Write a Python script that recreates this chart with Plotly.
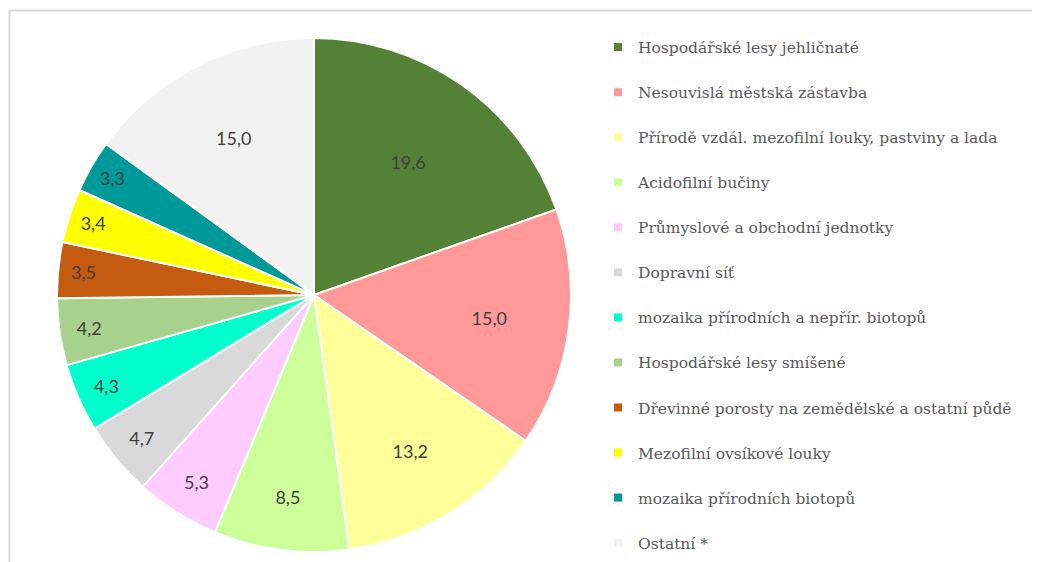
import plotly.graph_objects as go

categories = [
    "Hospodářské lesy jehličnaté",
    "Nesouvislá městská zástavba",
    "Přírodě vzdál. mezofilní louky, pastviny a lada",
    "Acidofilní bučiny",
    "Průmyslové a obchodní jednotky",
    "Dopravní síť",
    "mozaika přírodních a nepřír. biotopů",
    "Hospodářské lesy smíšené",
    "Dřevinné porosty na zemědělské a ostatní půdě",
    "Mezofilní ovsíkové louky",
    "mozaika přírodních biotopů",
    "Ostatní *",
]
values = [19.6, 15.0, 13.2, 8.5, 5.3, 4.7, 4.3, 4.2, 3.5, 3.4, 3.3, 15.0]
colors = [
    "#538135", "#FF9999", "#FFFF99", "#CCFF99", "#FFCCFF", "#D9D9D9",
    "#00FFCC", "#A9D18E", "#C55A11", "#FFFF00", "#009999", "#F2F2F2",
]
value_labels = [f"{v:.1f}".replace(".", ",") for v in values]

W, H = 1040, 562
OFF = 8  # default body margin of the html page
cx, cy, r = 314 - OFF, 295 - OFF, 257

serif = "DejaVu Serif"

fig = go.Figure()
fig.add_trace(go.Pie(
    labels=categories,
    values=values,
    text=value_labels,
    textinfo="text",
    textposition="inside",
    insidetextorientation="horizontal",
    sort=False,
    direction="clockwise",
    rotation=0,
    marker=dict(colors=colors, line=dict(color="white", width=2)),
    textfont=dict(family="Lato", size=18, color="#404040"),
    showlegend=False,
    hoverinfo="label+value",
    domain=dict(x=[(cx - r) / W, (cx + r) / W], y=[(H - cy - r) / H, (H - cy + r) / H]),
))

for i, (cat, col) in enumerate(zip(categories, colors)):
    fig.add_trace(go.Scatter(
        x=[None], y=[None], mode="markers", name=cat,
        marker=dict(symbol="square", size=8, color=col),
        legendgroup=f"g{i}", showlegend=True,
    ))

fig.update_layout(
    width=W, height=H,
    margin=dict(l=0, r=0, t=0, b=0),
    paper_bgcolor="white",
    plot_bgcolor="white",
    font=dict(family=serif, color="#595959"),
    xaxis=dict(visible=False),
    yaxis=dict(visible=False),
    legend=dict(
        x=(598 - OFF) / W, xanchor="left", y=1 - 22.5 / H, yanchor="top",
        font=dict(family=serif, size=15.5, color="#595959"),
        tracegroupgap=21.9,
        bgcolor="rgba(0,0,0,0)",
        itemclick=False, itemdoubleclick=False,
    ),
    shapes=[dict(
        type="rect", xref="paper", yref="paper",
        x0=(9.5 - OFF) / W, x1=1.05, y0=-0.05, y1=1 - (10.5 - OFF) / H,
        line=dict(color="#D9D9D9", width=2), fillcolor="rgba(0,0,0,0)",
        layer="below",
    )],
)

fig.write_html("out.html")
